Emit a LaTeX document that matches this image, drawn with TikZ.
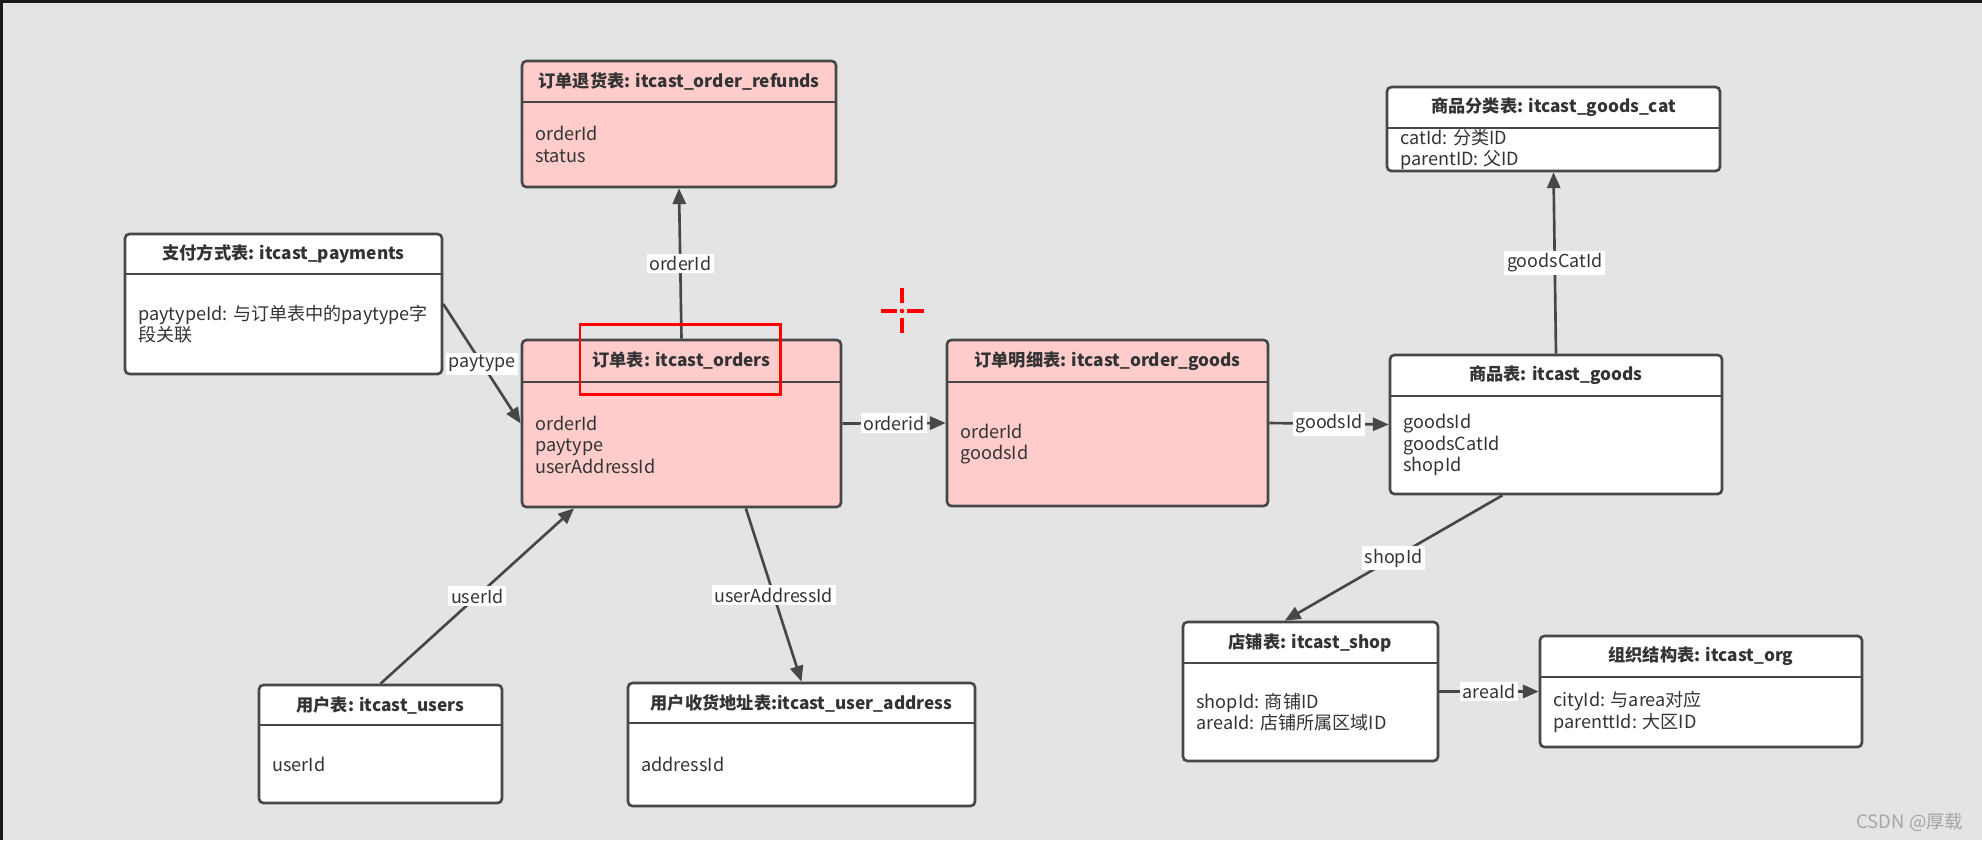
\documentclass[tikz,border=0pt]{standalone}
\usepackage{fontspec}
\setmainfont{Noto Sans CJK SC}
\usetikzlibrary{arrows.meta,calc,fit}
\definecolor{bgcol}{HTML}{E4E4E4}
\definecolor{pinkcol}{HTML}{FFCCCC}
\definecolor{linecol}{HTML}{474747}
\definecolor{txtcol}{HTML}{333333}
\tikzset{
  tbl/.style={draw=linecol,line width=1.5pt,rounded corners=2.5pt,inner sep=0pt},
  ttl/.style={font=\bfseries\fontsize{9.8}{11}\selectfont,text=txtcol},
  fld/.style={font=\fontsize{10.3}{12.2}\selectfont,text=txtcol,align=left,anchor=west,inner sep=0pt},
  rel/.style={draw=linecol,line width=1.5pt,-{Triangle[length=9pt,width=7.5pt]}},
  lbl/.style={fill=white,inner sep=1.5pt,font=\fontsize{10.2}{11}\selectfont,text=txtcol}
}

% one table: name, fill, left, top, right, bottom, header line, title, fields
\newcommand{\tablebox}[9]{
  \node[tbl,fill=#2,fit={(#3,#4) (#5,#6)}] (#1) {};
  \draw[linecol,line width=1.5pt] (#3,#7) -- (#5,#7);
  \node[ttl] (#1-title) at ({(#3+#5)/2},{(#4+#7)/2}) {#8};
  \node[fld] (#1-fields) at (#3+13,{(#7+#6)/2}) {#9};
}

\begin{document}
\begin{tikzpicture}[x=0.02cm,y=-0.02cm]

  % background
  \fill[bgcol] (0,0) rectangle (1982,840);
  \fill[black!90] (0,0) rectangle (1982,3);
  \fill[black!90] (0,0) rectangle (3,840);
  \useasboundingbox (0,0) rectangle (1982,840);

  % tables
  \tablebox{refunds}{pinkcol}{522}{61}{836}{187}{102}
    {订单退货表: itcast\_order\_refunds}{orderId\\status}
  \tablebox{payments}{white}{125}{234}{442}{374}{274}
    {支付方式表: itcast\_payments}{paytypeId: 与订单表中的paytype字\\段关联}
  \tablebox{orders}{pinkcol}{522}{340}{841}{507}{382}
    {订单表: itcast\_orders}{orderId\\paytype\\userAddressId}
  \tablebox{ordergoods}{pinkcol}{947}{340}{1268}{506}{382}
    {订单明细表: itcast\_order\_goods}{orderId\\goodsId}
  \tablebox{goodscat}{white}{1387}{87}{1720}{171}{128}
    {商品分类表: itcast\_goods\_cat}{catId: 分类ID\\parentID: 父ID}
  \tablebox{goods}{white}{1390}{355}{1722}{494}{396}
    {商品表: itcast\_goods}{goodsId\\goodsCatId\\shopId}
  \tablebox{shop}{white}{1183}{622}{1438}{761}{663}
    {店铺表: itcast\_shop}{shopId: 商铺ID\\areaId: 店铺所属区域ID}
  \tablebox{org}{white}{1540}{636}{1862}{747}{677}
    {组织结构表: itcast\_org}{cityId: 与area对应\\parenttId: 大区ID}
  \tablebox{users}{white}{259}{685}{502}{803}{725}
    {用户表: itcast\_users}{userId}
  \tablebox{address}{white}{628}{683}{975}{806}{723}
    {用户收货地址表:itcast\_user\_address}{addressId}

  % relations
  \draw[rel] (orders.north) -- node[lbl] {orderId} (refunds.south);
  \draw[rel] (payments.east) -- node[lbl] {paytype} (orders.west);
  \draw[rel] (orders.east) -- node[lbl] {orderid} (ordergoods.west);
  \draw[rel] (ordergoods.east) -- node[lbl] {goodsId} (goods.west);
  \draw[rel] (goods.north) -- node[lbl] {goodsCatId} (goodscat.south);
  \draw[rel] ($(goods.south west)!0.34!(goods.south east)$)
    -- node[lbl] {shopId} ($(shop.north west)!0.4!(shop.north east)$);
  \draw[rel] (shop.east) -- node[lbl] {areaId} (org.west);
  \draw[rel] (users.north)
    -- node[lbl] {userId} ($(orders.south west)!0.166!(orders.south east)$);
  \draw[rel] ($(orders.south west)!0.7!(orders.south east)$)
    -- node[lbl] {userAddressId} (address.north);

  % red marks
  \draw[red,line width=1.7pt] (580,324) rectangle (780,394);
  \draw[red,line width=2.2pt]
    (881,311) -- (897,311) (907,311) -- (924,311)
    (902,288) -- (902,303) (902,318) -- (902,333);
  \fill[red] (902,311) circle (1.3pt);

  % watermark
  \node[text=black!35,font=\fontsize{10.5}{12}\selectfont] (mark) at (1910,822) {CSDN @厚载};

\end{tikzpicture}
\end{document}
